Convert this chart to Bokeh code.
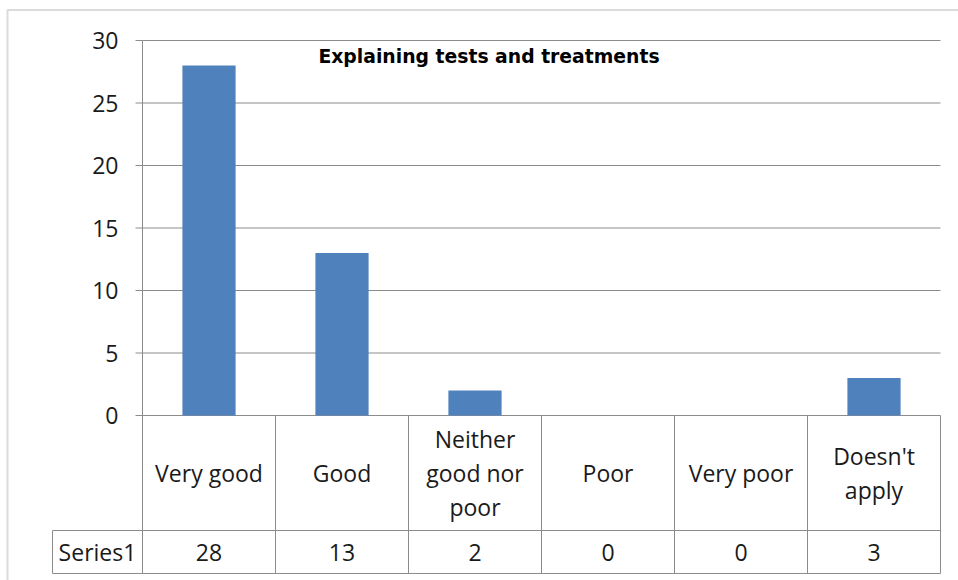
from bokeh.plotting import figure
from bokeh.models import Range1d, BoxAnnotation, ColumnDataSource
from bokeh.core.properties import value
from bokeh.embed import file_html
from bokeh.resources import INLINE

title = "Explaining tests and treatments"
categories = ["Very good", "Good", "Neither\ngood nor\npoor", "Poor", "Very poor", "Doesn't\napply"]
series_name = "Series1"
values = [28, 13, 2, 0, 0, 3]
y_ticks = [0, 5, 10, 15, 20, 25, 30]
tick_labels = [str(t) for t in y_ticks]

FONT = "Open Sans"
LINE = "#8c8c8c"
TXT = "#1a1a1a"
BAR = "#4F81BD"
FS = "23px"

# canvas-pixel layout
W, H = 958, 580
PLOT_L, PLOT_R = 142, 940      # plot area left/right (px)
PLOT_T, Y0_PX = 40, 415        # px of top value and of zero
ROW_PX, TABLE_B_PX = 530, 573  # data-table row split and bottom
SERIES_L_PX = 52
YMAX = y_ticks[-1]
n = len(categories)
PX_PER_CAT = (PLOT_R - PLOT_L) / n
PX_PER_UNIT = (Y0_PX - PLOT_T) / YMAX

def dx(px):
    return (px - PLOT_L) / PX_PER_CAT

def dy(py):
    return (Y0_PX - py) / PX_PER_UNIT

row_split = dy(ROW_PX)
table_bottom = dy(TABLE_B_PX)

p = figure(width=W, height=H, output_backend="svg", toolbar_location=None,
           x_range=Range1d(dx(0), dx(W)), y_range=Range1d(dy(H), dy(0)),
           min_border=0, x_axis_type=None, y_axis_type=None)
p.outline_line_color = None
p.grid.visible = False
p.background_fill_color = "white"
p.border_fill_color = "white"

# outer chart-area border
p.add_layout(BoxAnnotation(left=dx(7), right=dx(W + 40), top=dy(9.5), bottom=dy(H + 40),
                           fill_color=None, line_color="#888888", line_width=2))

# horizontal gridlines (through the y scale)
p.segment(x0=[0] * len(y_ticks), x1=[n] * len(y_ticks), y0=y_ticks, y1=y_ticks,
          line_color=LINE, line_width=1)
# tick marks
p.segment(x0=[dx(PLOT_L - 7)] * len(y_ticks), x1=[0] * len(y_ticks), y0=y_ticks, y1=y_ticks,
          line_color=LINE, line_width=1)
# tick labels
p.text(x=dx(118), y=y_ticks, text=tick_labels, text_align="right", text_baseline="middle",
       text_font=value(FONT), text_font_size=FS, text_color=TXT)

xs = [i + 0.5 for i in range(n)]
src = ColumnDataSource(dict(x=xs, top=values, cat=categories,
                            val=[str(v) for v in values]))
p.vbar(x="x", top="top", width=0.4, bottom=0, source=src,
       fill_color=BAR, line_color=None)

# axis line + data table verticals
p.segment(x0=[0], x1=[0], y0=[YMAX], y1=[table_bottom], line_color=LINE, line_width=1)
bounds_x = list(range(1, n + 1))
p.segment(x0=bounds_x, x1=bounds_x, y0=[0] * n, y1=[table_bottom] * n,
          line_color=LINE, line_width=1)
# table horizontals (incl. series-name cell)
p.segment(x0=[dx(SERIES_L_PX)] * 2, x1=[n, n], y0=[row_split, table_bottom],
          y1=[row_split, table_bottom], line_color=LINE, line_width=1)
p.segment(x0=[dx(SERIES_L_PX)], x1=[dx(SERIES_L_PX)], y0=[row_split], y1=[table_bottom],
          line_color=LINE, line_width=1)

cat_mid = (0 + row_split) / 2
val_mid = (row_split + table_bottom) / 2
p.text(x="x", y=cat_mid, text="cat", source=src, text_align="center",
       text_baseline="middle", text_font=value(FONT), text_font_size=FS,
       text_color=TXT, text_line_height=1.06)
p.text(x="x", y=val_mid, text="val", source=src, text_align="center",
       text_baseline="middle", text_font=value(FONT), text_font_size=FS,
       text_color=TXT)
p.text(x=[(dx(SERIES_L_PX) + 0) / 2], y=[val_mid], text=[series_name], text_align="center",
       text_baseline="middle", text_font=value(FONT), text_font_size=FS, text_color=TXT)

# title
p.text(x=[dx(488.5)], y=[dy(56)], text=[title], text_align="center",
       text_baseline="alphabetic", text_font=value("DejaVu Sans"), text_font_size="18.8px",
       text_font_style="bold", text_color="#000000")

open("out.html", "w").write(file_html(p, INLINE))
